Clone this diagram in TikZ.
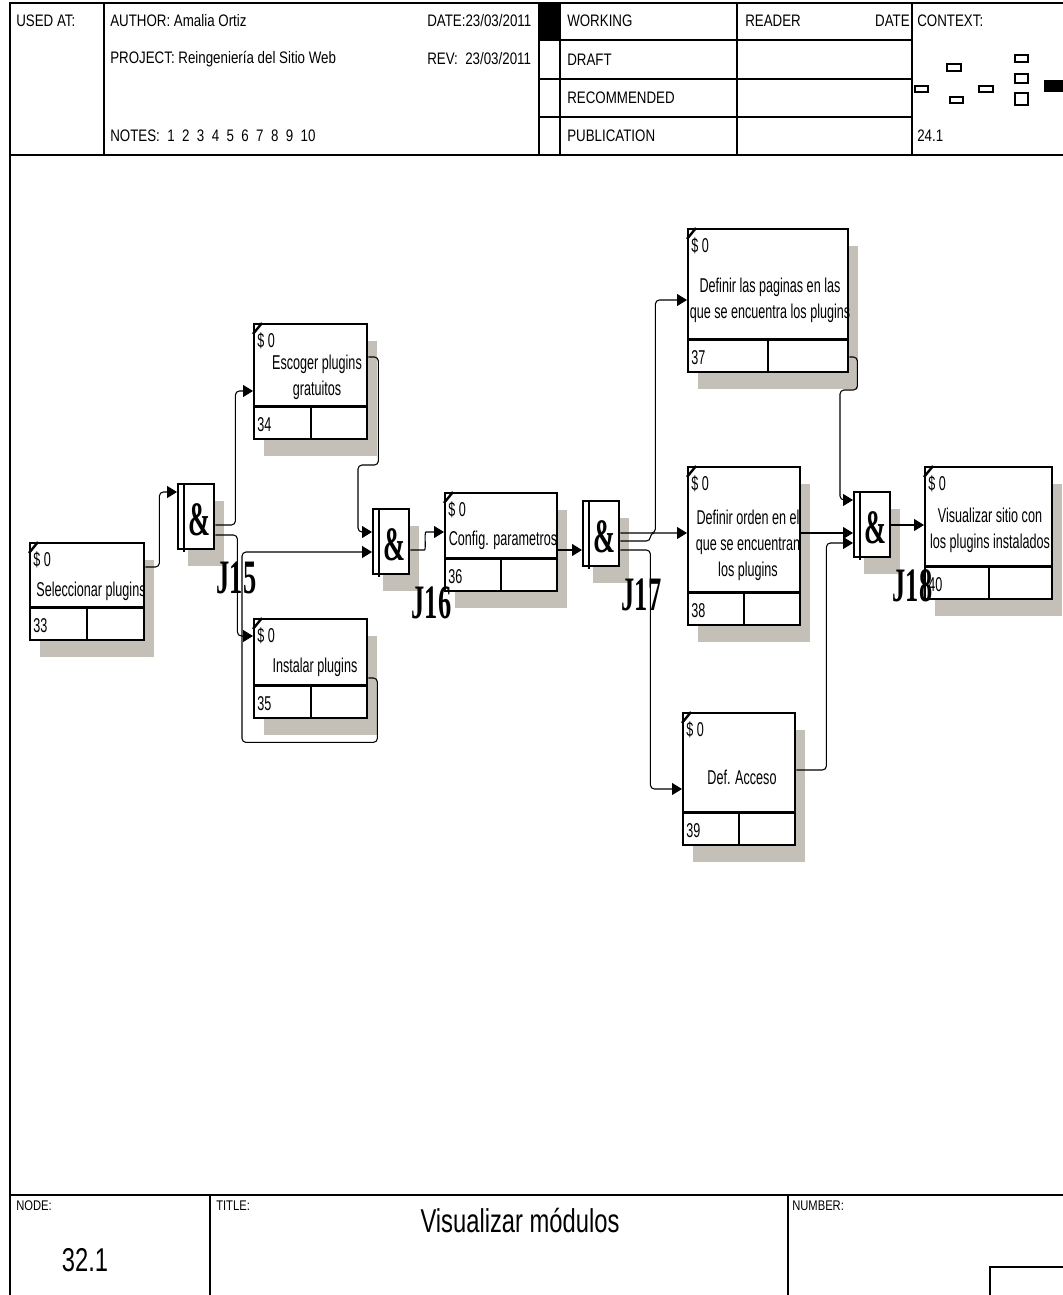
\documentclass[tikz,border=0pt]{standalone}
\usepackage{fontspec}
\setmainfont{Liberation Sans}
\newfontfamily\boxfont{Liberation Sans}[FakeStretch=0.63]
\newfontfamily\hdrfont{Liberation Sans}[FakeStretch=0.8]
\newfontfamily\bigfont{Liberation Sans}[FakeStretch=0.72]
\newfontfamily\jfont{Liberation Serif}[FakeStretch=0.55]
\usepackage{tikz}
\usetikzlibrary{arrows.meta, calc, positioning}

\tikzset{
  uob/.style={draw, line width=1.8pt, fill=white, inner sep=0pt, anchor=north west},
  uobshadow/.style={fill={rgb,255:red,196;green,192;blue,184}},
  jbox/.style={draw, line width=1.8pt, fill=white, inner sep=0pt, anchor=north west, minimum width=27pt, minimum height=48.75pt},
  link/.style={line width=0.8pt, rounded corners=3pt, -{Triangle[length=7.5pt,width=9pt]}},
  frameline/.style={line width=1.1pt},
  boxtxt/.style={font=\boxfont\fontsize{15}{19.5}\selectfont, inner sep=0pt, align=center},
  hdrtxt/.style={font=\hdrfont\fontsize{12.5}{15}\selectfont, inner sep=0pt, anchor=west},
  ftrtxt/.style={font=\hdrfont\fontsize{10.5}{12}\selectfont, inner sep=0pt, anchor=west},
  bigtxt/.style={font=\bigfont\fontsize{24.75}{28}\selectfont, inner sep=0pt},
  jlabel/.style={font=\jfont\bfseries\fontsize{36}{36}\selectfont, inner sep=0pt},
}

% unit of behaviour: name, x, y, width, height, number
\newcommand{\uobbox}[6]{%
  \fill[uobshadow] (#2+11,#3+18) rectangle ++(#4,#5);
  \node[uob, minimum width=#4*0.75pt, minimum height=#5*0.75pt] (#1) at (#2,#3) {};
  \draw[line width=1.8pt] ($(#1.south west)+(0,-34)$) -- ($(#1.south east)+(0,-34)$);
  \draw[line width=1.8pt] ($(#1.south)+(0,-34)$) -- (#1.south);
  \draw[line width=1.8pt] ($(#1.north west)+(0,11)$) -- ($(#1.north west)+(9,0)$);
  \node[boxtxt, anchor=west] (#1-cost) at ($(#1.north west)+(4,18)$) {\$ 0};
  \node[boxtxt, anchor=west] (#1-num) at ($(#1.south west)+(4,-16)$) {#6};
}
% junction box: name, x, y, label
\newcommand{\jbox}[4]{%
  \fill[uobshadow] (#2+11,#3+18) rectangle ++(36,65);
  \node[jbox] (#1) at (#2,#3) {};
  \draw[line width=1.8pt] ($(#1.north west)+(7,0)$) -- ($(#1.south west)+(7,2)$);
  \node[jlabel] (#1-amp) at ($(#1.center)+(3,3)$) {\&};
  \node[jlabel] (#1-lbl) at ($(#1.south east)+(21,27)$) {#4};
}

\begin{document}
\begin{tikzpicture}[x=0.75pt,y=0.75pt,yscale=-1,xscale=1]
\useasboundingbox (0,0) rectangle (1063,1295);

%Frame
\draw[frameline] (10,1295) -- (10,3) -- (1063,3);
\draw[frameline] (10,155) -- (1063,155);
\draw[frameline] (10,1195) -- (1063,1195);
%Header columns and rows
\draw[frameline] (104,3) -- (104,155);
\draw[frameline] (539,3) -- (539,155);
\draw[frameline] (560,3) -- (560,155);
\draw[frameline] (737,3) -- (737,155);
\draw[frameline] (912,3) -- (912,155);
\draw[frameline] (539,40) -- (912,40);
\draw[frameline] (539,79) -- (912,79);
\draw[frameline] (539,117) -- (912,117);
\fill (539,3) rectangle (560,40);
%Footer columns
\draw[frameline] (210,1195) -- (210,1295);
\draw[frameline] (788,1195) -- (788,1295);
\draw[frameline] (990,1295) -- (990,1267) -- (1063,1267);

%Header texts
\node[hdrtxt] (usedat) at (16,21) {USED AT:};
\node[hdrtxt] (author) at (110,21) {AUTHOR: Amalia Ortiz};
\node[hdrtxt] (date) at (427,21) {DATE:23/03/2011};
\node[hdrtxt] (project) at (110,59) {PROJECT: Reingeniería del Sitio Web};
\node[hdrtxt] (rev) at (427,59) {REV:\ \ 23/03/2011};
\node[hdrtxt] (notes) at (110,136) {NOTES:\ \ 1\ \ 2\ \ 3\ \ 4\ \ 5\ \ 6\ \ 7\ \ 8\ \ 9\ \ 10};
\node[hdrtxt] (working) at (567,21) {WORKING};
\node[hdrtxt] (draft) at (567,60) {DRAFT};
\node[hdrtxt] (recommended) at (567,98) {RECOMMENDED};
\node[hdrtxt] (publication) at (567,136) {PUBLICATION};
\node[hdrtxt] (reader) at (745,21) {READER};
\node[hdrtxt, anchor=east] (readerdate) at (910,21) {DATE};
\node[hdrtxt] (context) at (917,21) {CONTEXT:};
\node[hdrtxt] (contextnum) at (917,136) {24.1};

%Context map
\draw[line width=0.8pt] (915,86) rectangle (928,92);
\draw[line width=0.8pt] (947,64) rectangle (961,71);
\draw[line width=0.8pt] (950,97) rectangle (963,103);
\draw[line width=0.8pt] (979,86) rectangle (993,92);
\draw[line width=0.8pt] (1015,55) rectangle (1028,62);
\draw[line width=0.8pt] (1015,74) rectangle (1028,83);
\draw[line width=0.8pt] (1015,93) rectangle (1028,105);
\fill (1044,80) rectangle (1063,92);

%Footer texts
\node[ftrtxt] (nodelbl) at (16,1206) {NODE:};
\node[ftrtxt] (titlelbl) at (216,1206) {TITLE:};
\node[ftrtxt] (numberlbl) at (792,1206) {NUMBER:};
\node[bigtxt] (nodenum) at (85,1260) {32.1};
\node[bigtxt] (title) at (520,1220) {Visualizar módulos};

%Units of behaviour
\uobbox{b33}{29}{542}{114}{97}{33}
\uobbox{b34}{253}{323}{113}{115}{34}
\uobbox{b35}{253}{618}{113}{99}{35}
\uobbox{b36}{444}{492}{112}{98}{36}
\uobbox{b37}{687}{228}{160}{143}{37}
\uobbox{b38}{687}{466}{112}{158}{38}
\uobbox{b39}{682}{712}{112}{132}{39}
\uobbox{b40}{924}{466}{127}{132}{40}

\node[boxtxt] (b33-t) at (91,591) {Seleccionar plugins};
\node[boxtxt] (b34-t) at (317,377) {Escoger plugins\\gratuitos};
\node[boxtxt] (b35-t) at (315,667) {Instalar plugins};
\node[boxtxt] (b36-t) at (503,540) {Config. parametros};
\node[boxtxt] (b37-t) at (770,300) {Definir las paginas en las\\que se encuentra los plugins};
\node[boxtxt] (b38-t) at (748,545) {Definir orden en el\\que se encuentran\\los plugins};
\node[boxtxt] (b39-t) at (742,777) {Def. Acceso};
\node[boxtxt] (b40-t) at (990,530) {Visualizar sitio con\\los plugins instalados};

%Junctions
\jbox{j15}{177}{483}{J15}
\jbox{j16}{372}{508}{J16}
\jbox{j17}{582}{500}{J17}
\jbox{j18}{853}{491}{J18}

%Links
\draw[link] ($(b33.north east)+(0,25)$) -- ++(14,0) |- ($(j15.north west)+(0,9)$);
\draw[link] ($(j15.north east)+(0,42)$) -- ++(20,0) |- ($(b34.north west)+(0,68)$);
\draw[link] ($(j15.north east)+(0,52)$) -- ++(22,0) |- ($(b35.north west)+(0,18)$);
\draw[link] ($(b34.north east)+(0,34)$) -- ++(10,0) |- ($(j16.north west)+(-14,-43)$) |- ($(j16.north west)+(0,24)$);
\draw[link] ($(b35.north east)+(0,60)$) -- ++(9,0) |- ($(b35.south west)+(-11,23)$) |- ($(j16.north west)+(0,44)$);
\draw[link] ($(j16.north east)+(0,42)$) -- ++(10,0) .. controls +(6,0) and +(-6,0) .. ($(b36.north west)+(-14,40)$) -- ($(b36.north west)+(0,40)$);
\draw[link] ($(b36.north east)+(0,58)$) -- ($(j17.north west)+(0,50)$);
\draw[link] ($(j17.north east)+(0,33)$) -- ++(35,0) |- ($(b37.north west)+(0,72)$);
\draw[link] ($(j17.north east)+(0,41)$) -- ++(30,0) |- ($(b38.north west)+(0,67)$);
\draw[link] ($(j17.north east)+(0,50)$) -- ++(30,0) |- ($(b39.north west)+(0,77)$);
\draw[link] ($(b37.north east)+(0,129)$) -- ++(8,0) |- ($(j18.north west)+(-13,-101)$) |- ($(j18.north west)+(0,9)$);
\draw[link] ($(b38.north east)+(0,67)$) -- ($(j18.north west)+(0,42)$);
\draw[link] ($(b39.north east)+(0,58)$) -- ++(30,0) |- ($(j18.north west)+(0,52)$);
\draw[link] ($(j18.north east)+(0,34)$) -- ($(b40.north west)+(0,59)$);

\end{tikzpicture}
\end{document}
